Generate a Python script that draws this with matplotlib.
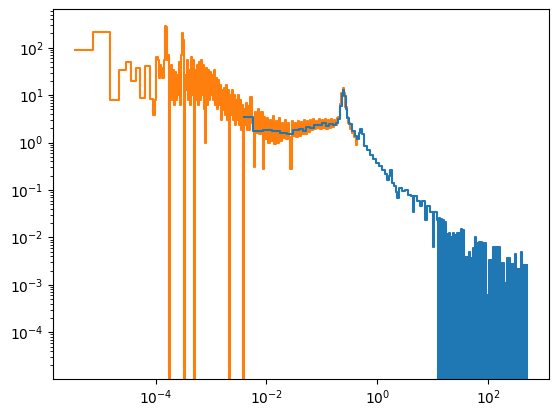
import matplotlib
matplotlib.use('Agg')
import matplotlib.pyplot as plt
from matplotlib.ticker import FixedLocator, NullLocator

# orange spectrum (coarse, low frequencies)
orange_f = [3.54e-6, 7.26e-6, 1.47e-5, 2.20e-5, 2.91e-5, 3.62e-5, 4.41e-5, 5.27e-5, 6.31e-5, 7.76e-5,
            8.79e-5, 9.84e-5, 1.026e-4, 1.081e-4, 1.127e-4, 1.175e-4, 1.247e-4, 1.315e-4, 1.388e-4, 1.448e-4,
            1.553e-4, 1.599e-4,
            1.687e-4, 1.759e-4, 1.833e-4, 1.911e-4, 1.992e-4, 2.077e-4, 2.165e-4, 2.257e-4, 2.353e-4, 2.453e-4,
            2.557e-4, 2.665e-4, 2.778e-4, 2.896e-4, 3.019e-4, 3.147e-4, 3.281e-4, 3.420e-4, 3.565e-4, 3.717e-4,
            3.874e-4, 4.039e-4, 4.210e-4, 4.389e-4, 4.575e-4, 4.769e-4, 4.972e-4, 5.183e-4, 5.403e-4, 5.632e-4,
            5.871e-4, 6.120e-4, 6.380e-4, 6.651e-4, 6.933e-4, 7.227e-4, 7.534e-4, 7.854e-4, 8.187e-4, 8.535e-4,
            8.897e-4, 9.274e-4, 9.668e-4, 1.0078e-3, 1.0506e-3, 1.0952e-3, 1.1417e-3, 1.1901e-3, 1.2406e-3, 1.2933e-3,
            1.3482e-3, 1.4054e-3, 1.4650e-3, 1.5272e-3, 1.5920e-3, 1.6596e-3, 1.7300e-3, 1.8034e-3, 1.8800e-3, 1.9598e-3,
            2.0429e-3, 2.1296e-3, 2.2200e-3, 2.3142e-3, 2.4124e-3, 2.5148e-3, 2.6215e-3, 2.7328e-3, 2.8488e-3, 2.9697e-3,
            3.0957e-3, 3.2271e-3, 3.3641e-3, 3.5069e-3, 3.6557e-3, 3.8108e-3, 3.9725e-3, 4.1411e-3, 4.3169e-3, 4.5001e-3,
            4.6911e-3,
            4.83e-3, 5.10e-3, 5.43e-3,
            5.85e-3, 6.15e-3, 6.55e-3, 6.97e-3, 7.41e-3, 7.89e-3, 8.50e-3, 8.93e-3, 9.51e-3, 1.012e-2,
            1.076e-2, 1.146e-2, 1.222e-2, 1.300e-2, 1.384e-2, 1.472e-2, 1.567e-2, 1.667e-2, 1.774e-2, 1.888e-2,
            2.01e-2, 2.14e-2, 2.28e-2, 2.42e-2, 2.58e-2, 2.69e-2, 2.86e-2, 3.05e-2, 3.24e-2, 3.45e-2,
            3.67e-2, 3.91e-2, 4.16e-2, 4.43e-2, 4.71e-2, 5.01e-2, 5.33e-2, 5.68e-2, 6.05e-2, 6.44e-2,
            6.85e-2, 7.29e-2, 7.76e-2, 8.26e-2, 8.79e-2, 9.35e-2, 9.95e-2, 0.1059, 0.1127, 0.1200,
            0.1277, 0.1361, 0.1449, 0.1542, 0.1641, 0.1746, 0.1858, 0.198, 0.210, 0.224,
            0.238, 0.248, 0.264, 0.281, 0.300, 0.326, 0.354, 0.385, 0.418, 0.435]
orange_p = [90, 214, 7.9, 33.7, 51, 20, 38, 8.9, 42, 8.3,
            3.8, 8, 65, 56, 23, 43, 38, 23, 56, 290,
            270, 56,
            70, 1e-9, 21, 43, 8, 34, 6.2, 31, 8, 27,
            10, 50, 6.2, 70, 205, 147, 1e-9, 27, 13, 56,
            8, 34, 6.2, 63, 10, 56, 1e-9, 34, 8, 43,
            6.2, 50, 8, 56, 10, 43, 5, 1.0, 38, 6.2,
            34, 8, 31, 10, 27, 8, 34, 6.2, 23, 5,
            21, 6.2, 16.5, 3.0, 13, 4.9, 14.5, 3.8, 16.5, 3.0,
            13, 1e-9, 10, 3.8, 13, 3.0, 10, 2.4, 8, 3.0,
            10, 2.4, 8, 1.85, 6.2, 1e-9, 5, 2.4, 7, 1.85,
            6,
            1.85, 9, 2.6,
            0.31, 4.4, 1.6, 5, 1.5, 4.4, 0.28, 3.5, 1.2, 3.3,
            1.0, 3.0, 1.1, 3.6, 0.95, 2.8, 1.0, 3.3, 1.1, 2.6,
            1.25, 3.0, 1.2, 2.6, 1.3, 0.28, 2.8, 1.35, 2.6, 1.3,
            2.9, 1.4, 2.7, 1.5, 3.0, 1.5, 2.8, 1.7, 3.0, 1.8,
            3.1, 1.9, 2.9, 2.0, 3.1, 1.95, 3.0, 2.0, 3.2, 1.9,
            3.0, 2.0, 3.1, 2.1, 3.0, 2.3, 3.3, 3.5, 6.5, 11,
            14, 11, 5.5, 3.5, 2.6, 1.9, 1.6, 1.3, 0.9, 1.1]

# blue spectrum (fine, high frequencies)
blue_f = [3.86e-3, 5.6e-3, 8.75e-3, 1.27e-2, 1.77e-2, 2.37e-2, 2.69e-2, 3.05e-2, 3.91e-2, 4.61e-2,
          5.22e-2, 6.17e-2, 7.29e-2, 8.6e-2, 0.1016, 0.120, 0.136, 0.161, 0.182, 0.198,
          0.215, 0.229, 0.240, 0.254, 0.270, 0.287, 0.312, 0.354, 0.401, 0.435,
          0.463, 0.493, 0.536, 0.582, 0.659, 0.748, 0.847, 0.959, 1.087, 1.23,
          1.39, 1.51, 1.65, 1.72, 1.87, 2.03, 2.20, 2.30, 2.50, 2.83,
          3.20, 3.63, 4.11, 4.47, 4.65, 5.27, 5.97, 6.49, 7.35, 8.0,
          9.05, 10.3, 10.7,
          12.11, 12.62, 13.15, 13.71, 14.30, 14.90, 15.54, 16.20, 16.88, 17.60,
          18.34, 19.12, 19.94, 20.78, 21.66, 22.58, 23.54, 24.54, 25.58, 26.67,
          27.80, 28.98, 30.21, 31.49, 32.83, 34.22, 35.67, 37.19, 38.76, 40.41,
          42.12, 43.91, 45.77, 47.72, 49.75, 51.86, 54.07, 56.36, 58.75, 61.25,
          63.85, 66.56, 69.38, 72.33, 75.40, 78.60, 81.92, 85.40, 89.02, 92.80,
          96.74, 100.8, 105.1, 109.6, 114.2, 119.1, 124.2, 129.4, 134.9, 140.6,
          146.6, 152.8, 159.3, 166.1, 173.1, 180.5, 188.1, 196.1, 204.4, 213.1,
          222.2, 231.6, 241.4, 251.7, 262.3, 273.5, 285.1, 297.2, 309.7, 322.9,
          336.6, 350.9, 365.8, 381.3, 397.5, 414.3, 431.9, 450.3, 469.4, 489.3,
          510.1]
blue_p = [3.5, 1.77, 1.8, 1.75, 1.62, 1.5, 1.55, 1.85, 1.95, 1.75,
          2.1, 2.05, 2.4, 2.3, 2.55, 2.2, 2.5, 2.3, 2.6, 3.2,
          6.0, 10.5, 13, 9.5, 5.0, 3.3, 2.5, 1.75, 1.4, 1.2,
          1.6, 1.95, 1.5, 0.85, 0.7, 0.55, 0.45, 0.37, 0.32, 0.27,
          0.22, 0.16, 0.2, 0.27, 0.14, 0.12, 0.09, 0.068, 0.11, 0.095,
          0.1, 0.08, 0.075, 0.035, 0.075, 0.058, 0.047, 0.06, 0.023, 0.045,
          0.035, 0.0064, 0.034,
          0.023, 1e-9, 0.0255, 1e-9, 0.024, 1e-9, 0.023, 1e-9, 0.0215, 1e-9,
          0.012, 1e-9, 0.0122, 1e-9, 0.0102, 1e-9, 0.0123, 1e-9, 0.011, 1e-9,
          0.0123, 1e-9, 0.0125, 1e-9, 0.0148, 1e-9, 0.0145, 1e-9, 0.0039, 1e-9,
          0.0039, 1e-9, 0.005, 1e-9, 0.0036, 1e-9, 0.0059, 1e-9, 0.0102, 1e-9,
          0.0078, 1e-9, 0.0082, 1e-9, 0.0082, 1e-9, 0.0076, 1e-9, 0.0076, 1e-9,
          6e-4, 1e-9, 0.0033, 1e-9, 0.0033, 1e-9, 0.0064, 1e-9, 0.0064, 1e-9,
          0.0062, 1e-9, 0.0062, 1e-9, 0.0029, 1e-9, 0.0029, 1e-9, 0.0011, 1e-9,
          0.0036, 1e-9, 0.0036, 1e-9, 0.0027, 1e-9, 0.0027, 1e-9, 0.0045, 1e-9,
          0.0022, 1e-9, 0.0022, 1e-9, 0.005, 1e-9, 0.0026, 1e-9, 0.0026, 1e-9,
          0.0026]

fig = plt.figure(figsize=(5.59, 4.17), dpi=100)
ax = fig.add_axes([0.0954, 0.0911, 0.8868, 0.8866])

ax.step(orange_f, orange_p, where='post', color='C1')
ax.step(blue_f, blue_p, where='post', color='C0')

ax.set_xscale('log')
ax.set_yscale('log')
ax.set_xlim(1.42e-6, 1259)
ax.set_ylim(1.035e-5, 646)
ax.xaxis.set_major_locator(FixedLocator([1e-4, 1e-2, 1e0, 1e2]))
ax.xaxis.set_minor_locator(NullLocator())

fig.savefig('out.png', dpi=100)
